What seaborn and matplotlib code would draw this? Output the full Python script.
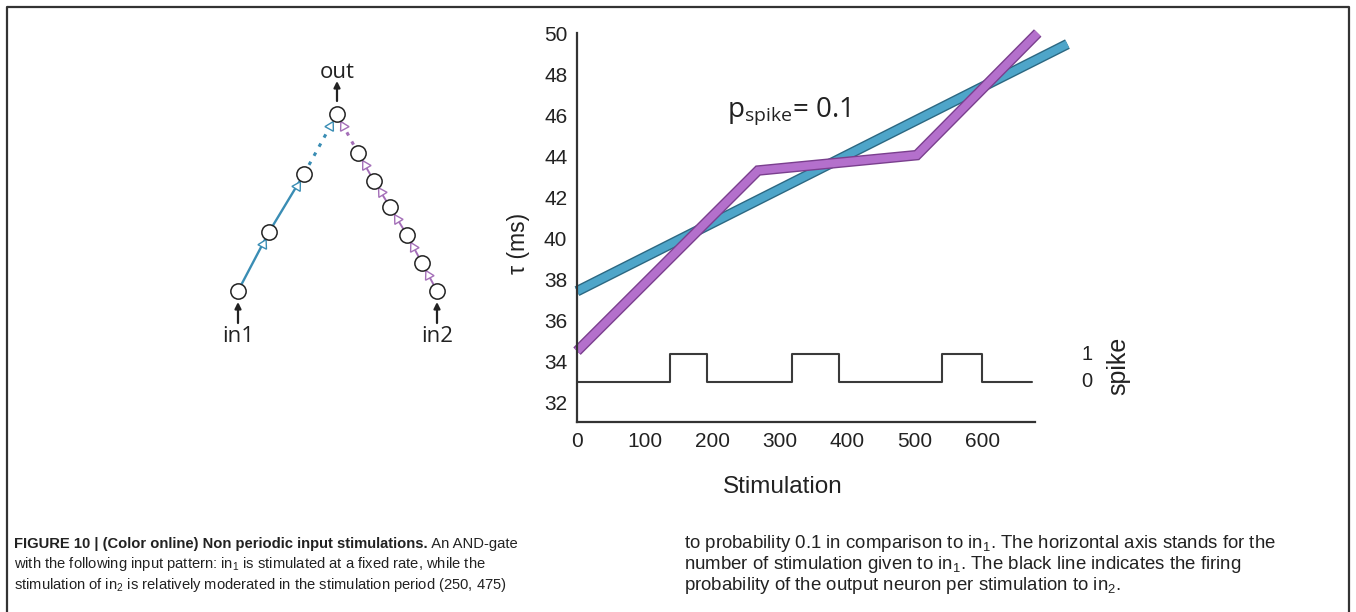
import numpy as np
import pandas as pd
import seaborn as sns
import matplotlib.pyplot as plt
import matplotlib.patheffects as pe
from matplotlib import font_manager as fm

# 데이터
stim_blue = [0, 726]
tau_blue = [37.42, 49.46]
stim_purple = [0, 268, 503, 682]
tau_purple = [34.5, 43.3, 44.05, 50.0]
spike_x = [0, 138, 193, 318, 388, 541, 599, 673]
spike_state = [0, 1, 0, 1, 0, 1, 0, 0]
spike_base = 33.0
spike_high = 34.35
xticks = [0, 100, 200, 300, 400, 500, 600]
yticks = [32, 34, 36, 38, 40, 42, 44, 46, 48, 50]

# 왼쪽 회로도 (픽셀 좌표)
blue_nodes_x = [238, 269, 304]
blue_nodes_y = [291, 232, 174]
out_node = (337, 114)
purple_nodes_x = [358, 374, 390, 407, 422, 437]
purple_nodes_y = [153, 181, 207, 235, 263, 291]

sns.set_style('white')
plt.rcParams['font.family'] = ['Liberation Sans', 'DejaVu Sans']

names = {f.name for f in fm.fontManager.ttflist}
cap_font = 'Liberation Sans Narrow' if 'Liberation Sans Narrow' in names else 'Liberation Sans'

W, H = 1356, 612
fig = plt.figure(figsize=(W / 100, H / 100), dpi=100)

# 전체 오버레이 축 (회로도, 캡션)
ax0 = fig.add_axes([0, 0, 1, 1])
ax0.set_xlim(0, W)
ax0.set_ylim(H, 0)
ax0.axis('off')

# 테두리
dark = '#333333'
ax0.plot([7, 1349], [7, 7], color=dark, lw=1.6, solid_capstyle='butt')
ax0.plot([7, 7], [7, H], color=dark, lw=1.6)
ax0.plot([1349, 1349], [7, H], color=dark, lw=1.6)

c_blue = '#3a8db4'
c_purp = '#a46fb8'

# 파란 체인
bx = blue_nodes_x + [out_node[0]]
by = blue_nodes_y + [out_node[1]]
ax0.plot(bx[:3], by[:3], color=c_blue, lw=1.7, zorder=1)
ax0.plot(bx[2:], by[2:], color=c_blue, lw=2.2, ls=(0, (1.2, 2.2)), zorder=1)
# 보라 체인
px = [out_node[0]] + purple_nodes_x
py = [out_node[1]] + purple_nodes_y
ax0.plot(px[:2], py[:2], color=c_purp, lw=2.2, ls=(0, (1.2, 2.2)), zorder=1)
ax0.plot(px[1:], py[1:], color=c_purp, lw=1.4, zorder=1)


def synapses(xs, ys, color):
    # xs, ys: 위(out)에서 아래 순서
    for i in range(len(xs) - 1):
        x_up, y_up = xs[i], ys[i]
        x_lo, y_lo = xs[i + 1], ys[i + 1]
        dx, dy = x_up - x_lo, y_up - y_lo
        d = np.hypot(dx, dy)
        tx, ty = x_up - dx / d * 13.5, y_up - dy / d * 13.5
        ang = np.degrees(np.arctan2(-dy, dx)) - 90
        ax0.plot(tx, ty, marker=(3, 0, ang), ms=8, mfc='white', mec=color, mew=1.0, zorder=2)


synapses(bx[::-1], by[::-1], c_blue)
synapses(px, py, c_purp)

allx = bx + purple_nodes_x
ally = by + purple_nodes_y
ax0.plot(allx, ally, ls='none', marker='o', ms=11, mfc='white', mec='#222222', mew=1.1, zorder=3)

# 화살표와 라벨
for (x0, y0, y1) in [(238, 323, 302), (437, 323, 302), (337, 101, 81)]:
    ax0.annotate('', xy=(x0, y1), xytext=(x0, y0),
                 arrowprops=dict(arrowstyle='-|>', color='#222222', lw=1.6, mutation_scale=9,
                                 shrinkA=0, shrinkB=0))
lab_font = ['Open Sans', 'DejaVu Sans']
ax0.text(337, 72, 'out', ha='center', va='center', fontsize=16, family=lab_font, color='#222222')
ax0.text(238, 336, 'in1', ha='center', va='center', fontsize=16, family=lab_font, color='#222222')
ax0.text(437, 336, 'in2', ha='center', va='center', fontsize=16, family=lab_font, color='#222222')

# 캡션 (왼쪽 단은 좁게, 오른쪽 단은 넓게 조판되어 있음)
left_kw = dict(fontsize=10.6, family=[cap_font, 'DejaVu Sans'], color='#222222', va='baseline', ha='left')
right_kw = dict(left_kw, fontsize=13.4)
t1 = ax0.text(14, 548, 'FIGURE 10 | (Color online) Non periodic input stimulations.', weight='bold', **left_kw)
ax0.annotate(' An AND-gate', xy=(1, 0), xycoords=t1, va='bottom', ha='left',
             fontsize=10.6, family=[cap_font, 'DejaVu Sans'], color='#222222')
ax0.text(14, 568, r'with the following input pattern: in$_\mathregular{1}$ is stimulated at a fixed rate, while the', **left_kw)
ax0.text(14, 589, r'stimulation of in$_\mathregular{2}$ is relatively moderated in the stimulation period (250, 475)', **left_kw)
ax0.text(684, 548, r'to probability 0.1 in comparison to in$_\mathregular{1}$. The horizontal axis stands for the', **right_kw)
ax0.text(684, 569, r'number of stimulation given to in$_\mathregular{1}$. The black line indicates the firing', **right_kw)
ax0.text(684, 590, r'probability of the output neuron per stimulation to in$_\mathregular{2}$.', **right_kw)

# 메인 그래프
ax = fig.add_axes([577 / W, 1 - 422 / H, (1035 - 577) / W, (422 - 33) / H])
ax.set_facecolor('none')

df_blue = pd.DataFrame({'stim': stim_blue, 'tau': tau_blue})
df_purp = pd.DataFrame({'stim': stim_purple, 'tau': tau_purple})
spike_y = [spike_base + s * (spike_high - spike_base) for s in spike_state]
df_spike = pd.DataFrame({'stim': spike_x, 'tau': spike_y})

sns.lineplot(data=df_spike, x='stim', y='tau', ax=ax, color='#3a3a3a', lw=1.5,
             drawstyle='steps-post', estimator=None, sort=False)
sns.lineplot(data=df_blue, x='stim', y='tau', ax=ax, color='#4ea5c9', lw=5.6, estimator=None, sort=False,
             clip_on=False, solid_joinstyle='miter', solid_capstyle='butt',
             path_effects=[pe.Stroke(linewidth=7.6, foreground='#2c6882'), pe.Normal()])
sns.lineplot(data=df_purp, x='stim', y='tau', ax=ax, color='#b470cc', lw=5.6, estimator=None, sort=False,
             clip_on=False, solid_joinstyle='miter', solid_capstyle='butt',
             path_effects=[pe.Stroke(linewidth=7.6, foreground='#7a3f8e', joinstyle='miter'), pe.Normal()])

ax.set_xlim(0, 678)
ax.set_ylim(31.05, 50)
ax.set_xticks(xticks)
ax.set_yticks(yticks)
ax.tick_params(direction='in', length=4, width=1.2, color=dark, labelsize=15, labelcolor='#222222', pad=7)
for s in ['top', 'right']:
    ax.spines[s].set_visible(False)
for s in ['left', 'bottom']:
    ax.spines[s].set_color(dark)
    ax.spines[s].set_linewidth(1.6)

ax.set_xlabel('Stimulation', fontsize=17.5, color='#222222')
ax.xaxis.set_label_coords((783 - 577) / (1035 - 577), -(476 - 422) / (422 - 33))
ax.set_ylabel('τ (ms)', fontsize=16.5, color='#222222')
ax.yaxis.set_label_coords(-(577 - 530) / (1035 - 577), 1 - (243 - 33) / (422 - 33))

ax.text(755, spike_high, '1', ha='center', va='center', fontsize=14.5, color='#222222', clip_on=False)
ax.text(755, spike_base, '0', ha='center', va='center', fontsize=14.5, color='#222222', clip_on=False)
ax.text(801, (spike_base + spike_high) / 2 + 0.1, 'spike', rotation=90, ha='center', va='center',
        fontsize=18, color='#222222', clip_on=False)

ax.text(222, 46.2, r'p$_\mathregular{spike}$= 0.1', ha='left', va='center', fontsize=20,
        family=['Open Sans', 'DejaVu Sans'], color='#222222')

fig.savefig('out.png', dpi=100)
